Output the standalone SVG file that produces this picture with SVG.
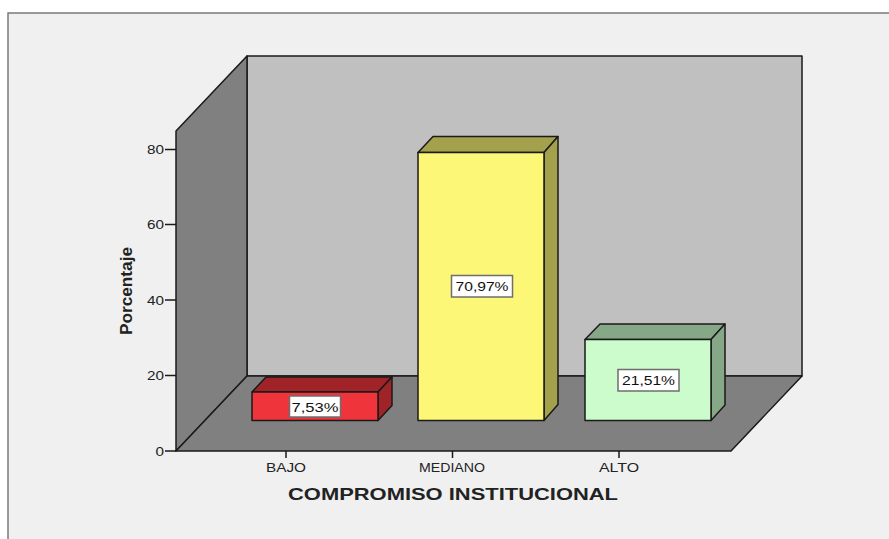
<svg xmlns="http://www.w3.org/2000/svg" width="889" height="539" viewBox="0 0 889 539">
<style>
  .lbl { font-family: "Liberation Sans", Arial, sans-serif; fill: #222; }
  .tick { font-size: 12.5px; text-anchor: end; }
  .cat { font-size: 13px; text-anchor: middle; }
  .val { font-size: 13px; text-anchor: middle; fill: #111; }
  .ln { stroke: #1a1a1a; stroke-width: 1.5; stroke-linejoin: round; }
  .box { fill: #ffffff; stroke: #6e6e6e; stroke-width: 1.5; }
</style>
<rect x="0" y="0" width="889" height="539" fill="#ffffff"/>
<rect x="8" y="13" width="890" height="540" fill="#f0f0f0" stroke="#7a7a7a" stroke-width="1.5"/>

<g id="frame3d">
  <rect x="247" y="56" width="555" height="320" fill="#c0c0c0" class="ln"/>
  <polygon points="176,131 247,56 247,376 176,451" fill="#808080" class="ln"/>
  <polygon points="176,451 247,376 802,376 731,451" fill="#808080" class="ln"/>
</g>

<g id="y-axis">
  <g class="ln" fill="none">
    <line x1="165" y1="149.5" x2="176" y2="149.5"/>
    <line x1="165" y1="224.5" x2="176" y2="224.5"/>
    <line x1="165" y1="300" x2="176" y2="300"/>
    <line x1="165" y1="375.5" x2="176" y2="375.5"/>
    <line x1="165" y1="451" x2="176" y2="451"/>
  </g>
  <text class="lbl tick" x="164" y="154" textLength="17" lengthAdjust="spacingAndGlyphs">80</text>
  <text class="lbl tick" x="164" y="229" textLength="17" lengthAdjust="spacingAndGlyphs">60</text>
  <text class="lbl tick" x="164" y="304.5" textLength="17" lengthAdjust="spacingAndGlyphs">40</text>
  <text class="lbl tick" x="164" y="380" textLength="17" lengthAdjust="spacingAndGlyphs">20</text>
  <text class="lbl tick" x="164" y="455.5" textLength="8.5" lengthAdjust="spacingAndGlyphs">0</text>
  <text class="lbl" x="0" y="0" transform="translate(131.5,291) rotate(-90)" font-size="16" font-weight="bold" fill="#000" text-anchor="middle" textLength="88" lengthAdjust="spacingAndGlyphs">Porcentaje</text>
</g>

<g id="bar-bajo">
  <polygon points="252,392 266,377 392,377 378,392" fill="#a02328" class="ln"/>
  <polygon points="378,392 392,377 392,405.5 378,420.5" fill="#a02328" class="ln"/>
  <rect x="252" y="392" width="126" height="28.5" fill="#f0343c" class="ln"/>
  <rect x="289.5" y="396" width="51" height="21" class="box"/>
  <text class="lbl val" x="315" y="411.5" textLength="47" lengthAdjust="spacingAndGlyphs">7,53%</text>
</g>

<g id="bar-mediano">
  <polygon points="418,152.5 433,136.5 558,136.5 544,152.5" fill="#a4a14c" class="ln"/>
  <polygon points="544,152.5 558,136.5 558,404.5 544,420.5" fill="#a4a14c" class="ln"/>
  <rect x="418" y="152.5" width="126" height="268" fill="#fcf776" class="ln"/>
  <rect x="451.5" y="275.5" width="61" height="21.5" class="box"/>
  <text class="lbl val" x="482" y="291" textLength="53" lengthAdjust="spacingAndGlyphs">70,97%</text>
</g>

<g id="bar-alto">
  <polygon points="585,339.5 600,324 725,324 711,339.5" fill="#87a887" class="ln"/>
  <polygon points="711,339.5 725,324 725,405 711,420.5" fill="#87a887" class="ln"/>
  <rect x="585" y="339.5" width="126" height="81" fill="#ccfccc" class="ln"/>
  <rect x="618" y="369.5" width="61" height="21.5" class="box"/>
  <text class="lbl val" x="648.5" y="385" textLength="53" lengthAdjust="spacingAndGlyphs">21,51%</text>
</g>

<g id="x-axis">
  <g class="ln" fill="none">
    <line x1="286" y1="451" x2="286" y2="458"/>
    <line x1="452.5" y1="451" x2="452.5" y2="458"/>
    <line x1="619" y1="451" x2="619" y2="458"/>
  </g>
  <text class="lbl cat" x="286" y="472" textLength="40" lengthAdjust="spacingAndGlyphs">BAJO</text>
  <text class="lbl cat" x="452" y="472" textLength="66" lengthAdjust="spacingAndGlyphs">MEDIANO</text>
  <text class="lbl cat" x="619" y="472" textLength="40" lengthAdjust="spacingAndGlyphs">ALTO</text>
  <text class="lbl" x="453" y="500" font-size="16.5" font-weight="bold" fill="#000" text-anchor="middle" textLength="330" lengthAdjust="spacingAndGlyphs">COMPROMISO INSTITUCIONAL</text>
</g>
</svg>
